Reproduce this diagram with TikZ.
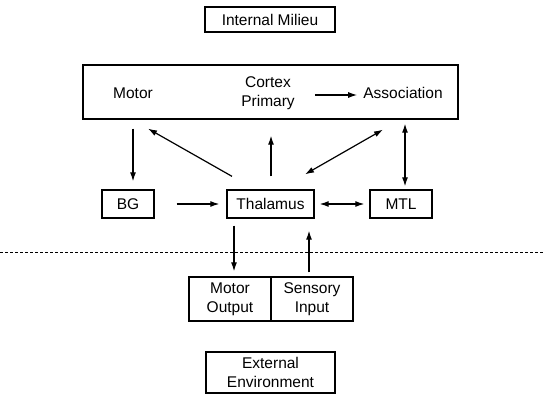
\documentclass[tikz,border=0pt]{standalone}
\usepackage{fontspec}
\setmainfont{Liberation Sans}
\usetikzlibrary{arrows.meta}
\begin{document}
\begin{tikzpicture}[x=1pt,y=-1pt,
  font=\fontsize{15.5}{19}\selectfont,
  box/.style={draw,line width=1.3pt,inner sep=0pt,align=center},
  lbl/.style={inner sep=0pt,align=center},
  arr/.style={line width=1.2pt,-{Latex[length=9pt,width=6pt]}},
  darr/.style={line width=1.2pt,{Latex[length=9pt,width=6pt]}-{Latex[length=9pt,width=6pt]}}]
\useasboundingbox (0,0) rectangle (545,395);

% top and bottom context boxes
\node[box,minimum width=130pt,minimum height=25pt] (milieu) at (270,19.5) {Internal Milieu};
\node[box,minimum width=129pt,minimum height=41pt] (env) at (270.5,372.5) {External\\Environment};

% cortex with its three areas
\node[box,minimum width=375pt,minimum height=54pt] (cortex) at (270.5,92) {};
\node[lbl] (motor) at (133,93) {Motor};
\node[lbl] (primary) at (268,93) {Cortex\\Primary};
\node[lbl] (assoc) at (403,93) {Association};

% subcortical structures
\node[box,minimum width=52pt,minimum height=28pt] (bg) at (128,204) {BG};
\node[box,minimum width=87pt,minimum height=28pt] (thal) at (270.5,204) {Thalamus};
\node[box,minimum width=62pt,minimum height=28pt] (mtl) at (401,204) {MTL};

% periphery
\node[box,minimum width=82pt,minimum height=44pt] (mout) at (230,299) {Motor\\Output};
\node[box,minimum width=82pt,minimum height=44pt] (sin) at (312,299) {Sensory\\Input};

% boundary between brain and world
\coordinate (bl) at (0,252);
\coordinate (br) at (545,252);
\draw[line width=1pt,dash pattern=on 3pt off 2pt] (bl) -- (br);

% connections
\draw[arr] ([shift={(20,2)}]primary.east) -- ([shift={(-6,2)}]assoc.west);
\draw[arr] ([shift={(-137.5,9)}]cortex.south) -- ([shift={(5,-8)}]bg.north);
\draw[arr] ([shift={(-38.5,-13)}]thal.north) -- ([shift={(-122.5,9)}]cortex.south);
\draw[arr] ([shift={(0.5,-13)}]thal.north) -- ([shift={(0.5,16)}]cortex.south);
\draw[darr] ([shift={(34.5,-15)}]thal.north) -- ([shift={(112.5,10)}]cortex.south);
\draw[darr] ([shift={(4,-3)}]mtl.north) -- ([shift={(134.5,4)}]cortex.south);
\draw[arr] ([shift={(22,0)}]bg.east) -- ([shift={(-7,0)}]thal.west);
\draw[darr] ([shift={(5,0)}]thal.east) -- ([shift={(-5,0)}]mtl.west);
\draw[arr] ([shift={(-36.5,7)}]thal.south) -- ([shift={(4,-5)}]mout.north);
\draw[arr] ([shift={(-3,-4)}]sin.north) -- ([shift={(38.5,12)}]thal.south);
\end{tikzpicture}
\end{document}
